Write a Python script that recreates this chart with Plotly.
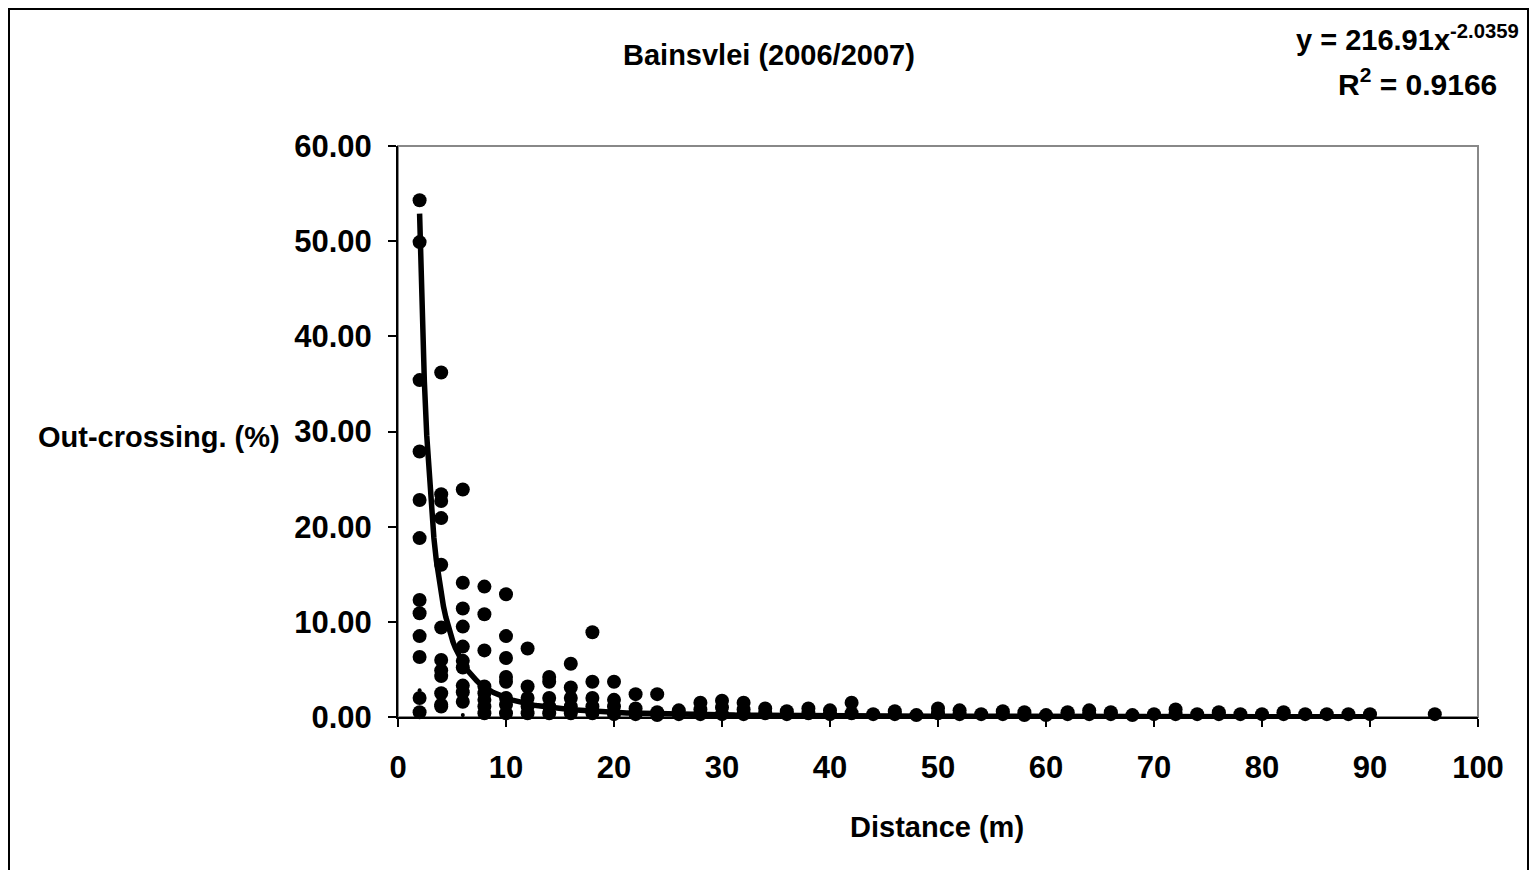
import numpy as np
import plotly.graph_objects as go

# Data
distance = [
    2, 2, 2, 2, 2, 2, 2, 2, 2, 2, 2, 2,
    4, 4, 4, 4, 4, 4, 4, 4, 4, 4, 4, 4,
    6, 6, 6, 6, 6, 6, 6, 6, 6, 6,
    8, 8, 8, 8, 8, 8, 8, 8,
    10, 10, 10, 10, 10, 10, 10, 10,
    12, 12, 12, 12, 12,
    14, 14, 14, 14, 14,
    16, 16, 16, 16, 16,
    18, 18, 18, 18, 18,
    20, 20, 20, 20,
    22, 22, 22,
    24, 24, 24,
    26, 26,
    28, 28, 28,
    30, 30, 30,
    32, 32, 32,
    34, 34,
    36, 36,
    38, 38,
    40, 40,
    42, 42,
    44,
    46, 46,
    48,
    50, 50,
    52, 52,
    54,
    56, 56,
    58, 58,
    60,
    62, 62,
    64, 64,
    66, 66,
    68,
    70,
    72, 72,
    74,
    76, 76,
    78,
    80,
    82, 82,
    84,
    86,
    88,
    90,
    96,
]
outcrossing = [
    54.3, 49.9, 35.4, 27.9, 22.8, 18.8, 12.3, 10.9, 8.5, 6.3, 2.0, 0.5,
    36.2, 23.4, 22.7, 20.9, 16.0, 9.4, 6.0, 4.9, 4.3, 2.5, 1.3, 1.1,
    23.9, 14.1, 11.4, 9.5, 7.4, 5.9, 5.2, 3.3, 2.6, 1.6,
    13.7, 10.8, 7.0, 3.2, 2.5, 1.8, 1.1, 0.4,
    12.9, 8.5, 6.2, 4.2, 3.7, 2.0, 1.3, 0.4,
    7.2, 3.2, 2.0, 1.1, 0.4,
    4.2, 3.7, 2.0, 1.1, 0.4,
    5.6, 3.1, 2.0, 1.1, 0.4,
    8.9, 3.7, 2.0, 1.1, 0.4,
    3.7, 1.8, 1.1, 0.3,
    2.4, 0.9, 0.3,
    2.4, 0.5, 0.2,
    0.7, 0.3,
    1.5, 0.8, 0.3,
    1.7, 1.0, 0.3,
    1.5, 0.8, 0.3,
    0.9, 0.4,
    0.6, 0.3,
    0.9, 0.4,
    0.7, 0.3,
    1.5, 0.4,
    0.3,
    0.6, 0.3,
    0.2,
    0.9, 0.4,
    0.7, 0.3,
    0.3,
    0.6, 0.3,
    0.5, 0.2,
    0.2,
    0.5, 0.3,
    0.7, 0.3,
    0.5, 0.3,
    0.2,
    0.3,
    0.8, 0.3,
    0.3,
    0.5, 0.3,
    0.3,
    0.3,
    0.5, 0.3,
    0.3,
    0.3,
    0.3,
    0.3,
    0.3,
]
small_distance = [2, 6]
small_outcrossing = [2.8, 0.2]

fit_a = 216.91
fit_b = -2.0359
fit_r2 = 0.9166
fit_x_start = 2
fit_x_end = 90

x_ticks = [0, 10, 20, 30, 40, 50, 60, 70, 80, 90, 100]
y_ticks = [0, 10, 20, 30, 40, 50, 60]

FONT = "Liberation Sans, Arial, sans-serif"

trend_x = np.linspace(fit_x_start, fit_x_end, 400)
trend_y = fit_a * trend_x ** fit_b

fig = go.Figure()
fig.add_trace(go.Scatter(
    x=distance, y=outcrossing, mode="markers",
    marker=dict(size=14, color="black"), showlegend=False, cliponaxis=False,
))
fig.add_trace(go.Scatter(
    x=small_distance, y=small_outcrossing, mode="markers",
    marker=dict(size=4, color="black"), showlegend=False,
))
fig.add_trace(go.Scatter(
    x=trend_x, y=trend_y, mode="lines",
    line=dict(color="black", width=5.5), showlegend=False,
))

L, R, T, B = 398, 1478, 146, 717
W, H = 1532, 870
pw, ph = R - L, B - T

def px(xp):
    return (xp - L) / pw

def py(yp):
    return (B - yp) / ph

fig.update_layout(
    width=W, height=H,
    margin=dict(l=L, r=W - R, t=T, b=H - B, pad=0),
    paper_bgcolor="white", plot_bgcolor="white",
    font=dict(family=FONT, size=29, color="black"),
    xaxis=dict(
        range=[0, 100], tickvals=x_ticks, ticktext=[str(v) for v in x_ticks],
        showgrid=False, zeroline=False, showline=True, linecolor="black", linewidth=2,
        ticks="outside", ticklen=8, tickwidth=1.5, tickcolor="black",
        ticklabelstandoff=14,
        tickfont=dict(family=FONT, size=31, color="black", weight="bold"),
    ),
    yaxis=dict(
        range=[0, 60], tickvals=y_ticks, ticktext=[f"{v:.2f}" for v in y_ticks],
        showgrid=False, zeroline=False, showline=True, linecolor="black", linewidth=2,
        ticks="outside", ticklen=8, tickwidth=1.5, tickcolor="black",
        ticklabelstandoff=10,
        tickfont=dict(family=FONT, size=31, color="black", weight="bold"),
    ),
    shapes=[
        dict(type="rect", xref="paper", yref="paper", x0=0, x1=1, y0=0, y1=1,
             line=dict(color="#888888", width=2), layer="below"),
        dict(type="rect", xref="paper", yref="paper",
             x0=px(9), x1=px(1528), y0=py(9), y1=py(880),
             line=dict(color="black", width=2), layer="below"),
    ],
    annotations=[
        dict(text="<b>Bainsvlei (2006/2007)</b>", xref="paper", yref="paper",
             x=px(769), y=py(55), xanchor="center", yanchor="middle", showarrow=False,
             font=dict(family=FONT, size=29, color="black")),
        dict(text=f"<b>y = {fit_a}x<sup>{fit_b}</sup></b>", xref="paper", yref="paper",
             x=px(1521), y=py(38), xanchor="right", yanchor="middle", showarrow=False,
             font=dict(family=FONT, size=29, color="black")),
        dict(text=f"<b>R<sup>2</sup> = {fit_r2}</b>", xref="paper", yref="paper",
             x=px(1499), y=py(82), xanchor="right", yanchor="middle", showarrow=False,
             font=dict(family=FONT, size=30, color="black")),
        dict(text="<b>Out-crossing. (%)</b>", xref="paper", yref="paper",
             x=px(282), y=py(437), xanchor="right", yanchor="middle", showarrow=False,
             font=dict(family=FONT, size=29, color="black")),
        dict(text="<b>Distance (m)</b>", xref="paper", yref="paper",
             x=px(937), y=py(827), xanchor="center", yanchor="middle", showarrow=False,
             font=dict(family=FONT, size=29, color="black")),
    ],
)

fig.write_html("out.html")
